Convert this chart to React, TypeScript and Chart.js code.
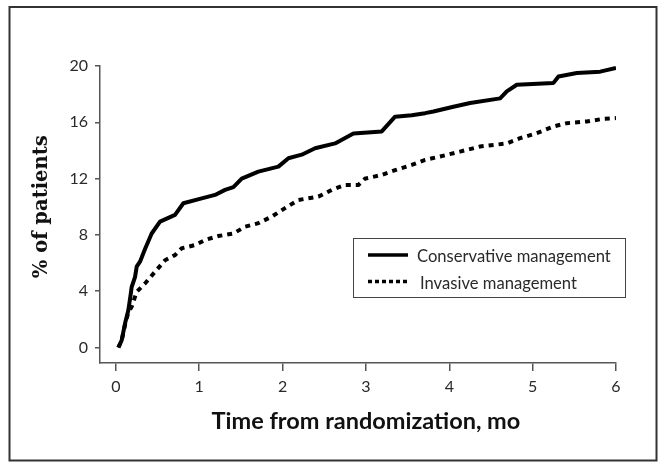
import React, { useEffect, useRef } from "react";
import { Chart, registerables } from "chart.js";

Chart.register(...registerables);

const conservativeX = [0.03, 0.07, 0.11, 0.15, 0.18, 0.19, 0.23, 0.25, 0.29, 0.35, 0.43, 0.53, 0.71, 0.81, 1.03, 1.19, 1.31, 1.41, 1.51, 1.71, 1.95, 2.07, 2.23, 2.39, 2.63, 2.85, 3.19, 3.35, 3.55, 3.71, 3.81, 4.05, 4.25, 4.61, 4.69, 4.81, 5.25, 5.31, 5.53, 5.81, 6.0];
const conservativeY = [0, 0.5, 1.7, 2.65, 3.86, 4.3, 5.0, 5.74, 6.1, 7.0, 8.1, 8.94, 9.42, 10.25, 10.6, 10.84, 11.2, 11.4, 12.0, 12.5, 12.85, 13.45, 13.7, 14.16, 14.5, 15.2, 15.35, 16.4, 16.5, 16.65, 16.77, 17.1, 17.37, 17.7, 18.2, 18.67, 18.8, 19.26, 19.5, 19.6, 19.86];

const invasiveX = [0.03, 0.07, 0.11, 0.15, 0.19, 0.25, 0.35, 0.47, 0.59, 0.71, 0.79, 0.95, 1.07, 1.23, 1.41, 1.55, 1.71, 1.87, 2.03, 2.19, 2.43, 2.59, 2.75, 2.91, 2.99, 3.19, 3.35, 3.55, 3.71, 3.89, 4.13, 4.37, 4.69, 4.85, 5.05, 5.25, 5.41, 5.65, 5.85, 6.0];
const invasiveY = [0, 0.5, 1.6, 2.5, 2.9, 3.96, 4.55, 5.38, 6.2, 6.57, 7.05, 7.28, 7.64, 7.92, 8.1, 8.58, 8.83, 9.3, 9.9, 10.48, 10.72, 11.2, 11.55, 11.55, 12.0, 12.26, 12.6, 12.97, 13.33, 13.57, 13.92, 14.28, 14.5, 14.87, 15.23, 15.7, 15.94, 16.06, 16.25, 16.3];

const seriesLabels = ["Conservative management", "Invasive management"];
const xTickValues = [0, 1, 2, 3, 4, 5, 6];
const yTickValues = [0, 4, 8, 12, 16, 20];
const xTitle = "Time from randomization, mo";
const yTitle = "% of patients";

const W = 658;
const H = 462;
const AXIS = "#555555";
const TEXT = "#2a2a2a";

const decorPlugin = {
  id: "decor",
  beforeDraw(chart: any) {
    const ctx = chart.ctx;
    ctx.save();
    ctx.fillStyle = "#ffffff";
    ctx.fillRect(0, 0, W, H);
    ctx.restore();
  },
  afterDraw(chart: any) {
    const ctx = chart.ctx;
    const xs = chart.scales.x;
    const ys = chart.scales.y;
    ctx.save();
    // outer frame
    ctx.strokeStyle = "#333333";
    ctx.lineWidth = 2;
    ctx.strokeRect(9.5, 7, 647, 453.5);

    // x title
    ctx.fillStyle = "#111111";
    ctx.font = "bold 23.5px Lato";
    ctx.textAlign = "center";
    ctx.textBaseline = "alphabetic";
    const cx = (xs.getPixelForValue(0) + xs.getPixelForValue(6)) / 2;
    ctx.fillText(xTitle, cx, 429);

    // y title
    ctx.save();
    const cy = (ys.getPixelForValue(0) + ys.getPixelForValue(20)) / 2;
    ctx.translate(47, cy);
    ctx.rotate(-Math.PI / 2);
    ctx.font = "bold 19.5px 'DejaVu Serif'";
    ctx.textAlign = "center";
    ctx.textBaseline = "alphabetic";
    ctx.fillText(yTitle, 0, 0);
    ctx.restore();

    // legend box
    ctx.strokeStyle = "#444444";
    ctx.lineWidth = 1;
    ctx.strokeRect(353.5, 238.5, 272, 59);
    const rows = [
      { y: 255, ty: 261.5, tx: 417, dash: [] as number[] },
      { y: 281.5, ty: 289, tx: 420, dash: [4, 3] },
    ];
    chart.data.datasets.forEach((ds: any, i: number) => {
      const r = rows[i];
      ctx.save();
      ctx.strokeStyle = ds.borderColor;
      ctx.lineWidth = 3.5;
      ctx.setLineDash(r.dash);
      ctx.beginPath();
      ctx.moveTo(368, r.y);
      ctx.lineTo(408, r.y);
      ctx.stroke();
      ctx.restore();
      ctx.fillStyle = TEXT;
      ctx.font = "16.6px Lato";
      ctx.textAlign = "left";
      ctx.textBaseline = "alphabetic";
      ctx.fillText(ds.label, r.tx, r.ty);
    });
    ctx.restore();
  },
};

export default function App() {
  const ref = useRef<HTMLCanvasElement | null>(null);

  useEffect(() => {
    if (!ref.current) return;
    const chart = new Chart(ref.current, {
      type: "line",
      data: {
        datasets: [
          {
            label: seriesLabels[0],
            data: conservativeX.map((x, i) => ({ x, y: conservativeY[i] })),
            borderColor: "#000000",
            borderWidth: 4,
            pointRadius: 0,
            tension: 0,
            borderJoinStyle: "round",
          },
          {
            label: seriesLabels[1],
            data: invasiveX.map((x, i) => ({ x, y: invasiveY[i] })),
            borderColor: "#000000",
            borderWidth: 4,
            borderDash: [5, 5],
            pointRadius: 0,
            tension: 0,
          },
        ],
      },
      options: {
        animation: false,
        responsive: false,
        devicePixelRatio: 1,
        layout: { padding: { left: 0, right: 42, top: 66, bottom: 0 } },
        plugins: {
          legend: { display: false },
          tooltip: { enabled: false },
        },
        scales: {
          x: {
            type: "linear",
            min: -0.19,
            max: 6,
            afterBuildTicks: (s: any) => {
              s.ticks = xTickValues.map((v) => ({ value: v }));
            },
            afterFit: (s: any) => {
              s.height = 99;
            },
            ticks: {
              color: TEXT,
              font: { family: "Lato", size: 16 },
              padding: 6,
              maxRotation: 0,
              autoSkip: false,
            },
            grid: {
              drawOnChartArea: false,
              drawTicks: true,
              tickLength: 8,
              color: AXIS,
              lineWidth: 1.5,
            },
            border: { display: true, color: AXIS, width: 1.5 },
          },
          y: {
            type: "linear",
            min: -1.1,
            max: 20,
            afterBuildTicks: (s: any) => {
              s.ticks = yTickValues.map((v) => ({ value: v }));
            },
            afterFit: (s: any) => {
              s.width = 100;
            },
            ticks: {
              color: TEXT,
              font: { family: "Lato", size: 16 },
              padding: 7,
              autoSkip: false,
            },
            grid: {
              drawOnChartArea: false,
              drawTicks: true,
              tickLength: 5,
              color: AXIS,
              lineWidth: 1.5,
            },
            border: { display: true, color: AXIS, width: 1.5 },
          },
        },
      },
      plugins: [decorPlugin],
    } as any);
    return () => chart.destroy();
  }, []);

  return (
    <div style={{ position: "fixed", left: 0, top: 0, width: W, height: H, background: "#fff" }}>
      <canvas ref={ref} width={W} height={H} style={{ width: W, height: H, display: "block" }} />
    </div>
  );
}
